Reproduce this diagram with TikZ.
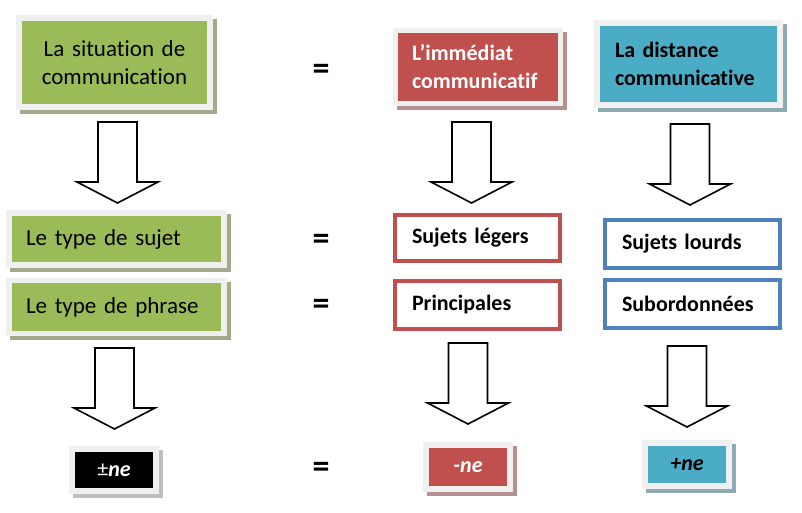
\documentclass[tikz,border=0pt]{standalone}
\usepackage{fontspec}
\setmainfont{Carlito}[Ligatures=NoCommon]
\usepackage{tikz}
\usetikzlibrary{positioning}
\definecolor{BoxGreen}{RGB}{155,187,89}
\definecolor{BoxRed}{RGB}{192,80,77}
\definecolor{BoxBlue}{RGB}{75,172,198}
\definecolor{LineBlue}{RGB}{79,129,189}
\definecolor{FrameGray}{RGB}{240,240,240}
\definecolor{ShadeGreen}{RGB}{166,168,140}
\definecolor{ShadeRed}{RGB}{180,145,145}
\definecolor{ShadeBlue}{RGB}{143,170,178}
\definecolor{ShadeGray}{RGB}{190,190,190}
\newcommand\boxfont{\fontsize{22}{28}\selectfont}
\newcommand\greenfont{\fontsize{23}{28}\selectfont}

\tikzset{
  tilebox/.style 2 args={fill=#1,draw=FrameGray,line width=5.5pt,
    preaction={draw=#2,fill=#2,transform canvas={xshift=4pt,yshift=-4pt}}},
  linebox/.style={fill=white,draw=#1,line width=4pt,font=\boxfont\bfseries,
    align=left,inner xsep=17pt},
  eqsign/.style={font=\fontsize{34}{34}\selectfont\bfseries,inner sep=0pt},
  blockarrow/.pic={
    \draw[line width=1.6pt,fill=white,line join=miter]
      (-19.5,0) -- (19.5,0) -- (19.5,60) -- (40.5,60) -- (0,81)
      -- (-40.5,60) -- (-19.5,60) -- cycle;}
}

\begin{document}
\begin{tikzpicture}[x=1pt,y=-1pt]
  \useasboundingbox (0,0) rectangle (802,513);

  % first row
  \node[tilebox={BoxGreen}{ShadeGreen},font=\greenfont,align=center,inner xsep=10pt,
    text width=171pt,minimum height=89pt] (situation) at (114.5,62.5)
    {La situation de\\communication};
  \node[eqsign] (eqa) at (321,72) {=};
  \node[tilebox={BoxRed}{ShadeRed},font=\boxfont\bfseries,text=white,align=left,
    inner xsep=16.5pt,text width=132pt,minimum height=73pt] (immediat) at (478,67)
    {L’immédiat\\communicatif};
  \node[tilebox={BoxBlue}{ShadeBlue},font=\boxfont\bfseries,align=left,
    inner xsep=18pt,text width=147pt,minimum height=82pt] (distance) at (688.5,64)
    {La distance\\communicative};

  \pic at (117.5,122) {blockarrow};
  \pic at (471.5,122) {blockarrow};
  \pic at (690,124) {blockarrow};

  % subject and clause type
  \node[tilebox={BoxGreen}{ShadeGreen},font=\greenfont,align=left,inner xsep=17pt,
    text width=181pt,minimum height=52pt] (sujet) at (116.5,239) {Le type de sujet};
  \node[tilebox={BoxGreen}{ShadeGreen},font=\greenfont,align=left,inner xsep=17pt,
    text width=181pt,minimum height=53pt] (phrase) at (116.5,307) {Le type de phrase};
  \node[eqsign] (eqb) at (321,242) {=};
  \node[eqsign] (eqc) at (321,307) {=};
  \node[linebox=BoxRed,text width=131pt,minimum height=46pt] (legers) at (477.5,238)
    {Sujets légers};
  \node[linebox=BoxRed,text width=131pt,minimum height=48pt] (principales) at (477.5,305)
    {Principales};
  \node[linebox=LineBlue,text width=141pt,minimum height=48pt] (lourds) at (692.5,244)
    {Sujets lourds};
  \node[linebox=LineBlue,text width=141pt,minimum height=48pt] (subord) at (692.5,304)
    {Subordonnées};

  \pic at (114.5,348) {blockarrow};
  \pic at (468,343) {blockarrow};
  \pic at (687,346) {blockarrow};

  % ne
  \node[tilebox={black}{ShadeGray},text=white,font=\boxfont,inner sep=0pt,
    minimum width=84pt,minimum height=42pt] (pmne) at (114,470)
    {±\textbf{\textit{ne}}};
  \node[eqsign] (eqd) at (321,470) {=};
  \node[tilebox={BoxRed}{ShadeRed},text=white,font=\boxfont\bfseries\itshape,
    inner sep=0pt,minimum width=84pt,minimum height=44pt] (minusne) at (468,467)
    {-ne};
  \node[tilebox={BoxBlue}{ShadeBlue},font=\boxfont\bfseries\itshape,
    inner sep=0pt,minimum width=84pt,minimum height=43pt] (plusne) at (687,464.5)
    {+ne};
\end{tikzpicture}
\end{document}
